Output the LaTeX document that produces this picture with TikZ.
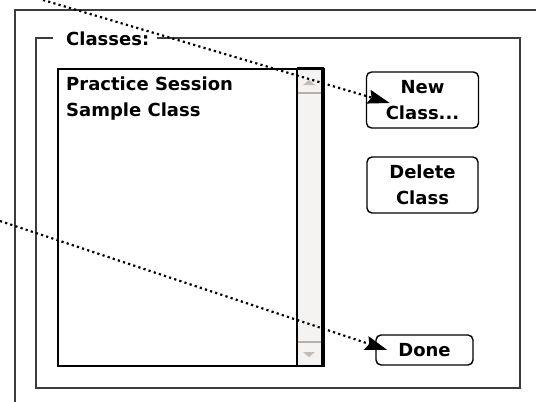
\documentclass[tikz,border=0pt]{standalone}
\usepackage{fontspec}
\setmainfont{DejaVu Sans}
\usetikzlibrary{arrows.meta,calc}
\definecolor{framegray}{HTML}{3C3C3C}
\definecolor{scrollfill}{HTML}{F5F3F1}
\definecolor{divider}{HTML}{B8B0A8}
\definecolor{arrowgray}{HTML}{C4BCB4}
\begin{document}
\begin{tikzpicture}[x=1pt,y=-1pt,
  frame/.style={draw=framegray, line width=2pt},
  lbl/.style={font=\bfseries\fontsize{18}{26}\selectfont, inner sep=0pt},
  btn/.style={draw=black, line width=1.4pt, rounded corners=5pt, fill=white, align=center,
    font=\bfseries\fontsize{18}{26}\selectfont, inner sep=0pt},
  arr/.style={line width=2.2pt, dash pattern=on 2.2pt off 3.2pt,
    -{Stealth[length=22pt,width=14pt,inset=3pt]}}
]
\useasboundingbox (0,0) rectangle (536,402);
% outer window frame
\draw[frame] (15,402) -- (15,10) -- (536,10);
% group box
\draw[frame] (53,38) -- (36,38) -- (36,388) -- (520,388) -- (520,38) -- (157,38);
\node[lbl, anchor=base west] (title) at (66,45) {Classes:};
% list box
\node[draw=black, line width=1.5pt, minimum width=266pt, minimum height=297pt,
  anchor=north west, inner sep=0pt] (list) at (57,68) {};
% scrollbar
\fill[scrollfill] (297,68) rectangle (322,365);
\draw[line width=1.5pt] (297,68) -- (297,365);
\draw[line width=3pt] (297,68) -- (323.5,68);
\draw[line width=3pt] (322,67) -- (322,366);
\draw[divider, line width=1.5pt] (298,93) -- (320.5,93);
\draw[divider, line width=1.5pt] (298,342) -- (320.5,342);
\fill[arrowgray] (303,85) -- (315,85) -- (309,80) -- cycle;
\fill[arrowgray] (303,352) -- (315,352) -- (309,357) -- cycle;
% list items
\node[lbl, anchor=base west] (item1) at (66,90) {Practice Session};
\node[lbl, anchor=base west] (item2) at (66,116) {Sample Class};
% buttons
\node[btn, minimum width=112pt, minimum height=56pt] (nc) at (422.5,100) {New\\Class...};
\node[btn, minimum width=111pt, minimum height=56pt] (dc) at (422.5,185) {Delete\\Class};
\node[btn, minimum width=97pt, minimum height=30pt] (done) at (424.5,350) {Done};
% callout arrows
\coordinate (s1) at (43,0);
\coordinate (s2) at (0,221);
\draw[arr] (s1) -- ($(nc.west)+(24,3)$);
\draw[arr] (s2) -- ($(done.west)+(12,0)$);
\end{tikzpicture}
\end{document}
